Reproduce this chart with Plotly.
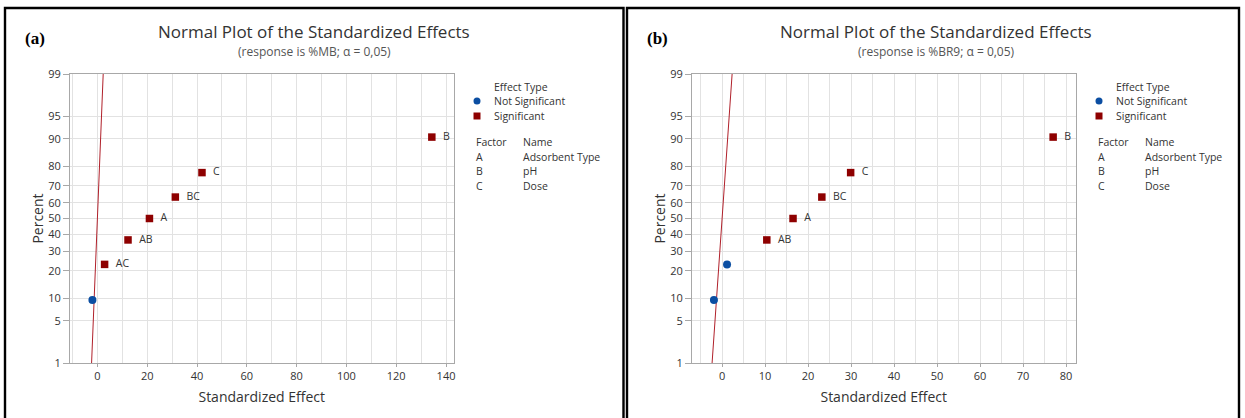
import plotly.graph_objects as go
from statistics import NormalDist

W, H = 1245, 418
_nd = NormalDist()


def zscore(pct):
    """Normal-probability position of a percentage."""
    return _nd.inv_cdf(pct / 100.0)


def px(x):
    return x / W


def py(y):
    return 1 - y / H


# ---- data -------------------------------------------------------------
percent_ticks = [1, 5, 10, 20, 30, 40, 50, 60, 70, 80, 90, 95, 99]
terms = ["ABC", "AC", "AB", "A", "BC", "C", "B"]
percent = [9.5, 23.0, 36.5, 50.0, 63.5, 77.0, 90.5]

mb_effects = [-2.0, 2.9, 12.3, 20.9, 31.3, 42.0, 134.3]
mb_significant = [False, True, True, True, True, True, True]

br9_effects = [-1.9, 1.15, 10.4, 16.5, 23.2, 29.9, 77.0]
br9_significant = [False, False, True, True, True, True, True]

ref_effect = [-2.33, 2.33]
ref_percent = [1, 99]

factors = ["A", "B", "C"]
factor_names = ["Adsorbent Type", "pH", "Dose"]

panels = [
    dict(tag="(a)", response="%MB", effects=mb_effects, sig=mb_significant,
         xrange=[-11, 143], dtick=20, minor=10),
    dict(tag="(b)", response="%BR9", effects=br9_effects, sig=br9_significant,
         xrange=[-7, 82.2], dtick=10, minor=5),
]

# ---- styling ----------------------------------------------------------
FONT = "Open Sans"
TXT = "#333333"
RED = "#8e0000"
BLUE = "#0b4ea2"
LINE_RED = "#b0202a"
GRID = "#e2e2e2"
AXIS = "#a8a8a8"

fig = go.Figure()
shapes = []
annotations = []

for i, p in enumerate(panels):
    dx = 622 * i
    xa = "x" if i == 0 else f"x{i + 1}"
    ya = "y" if i == 0 else f"y{i + 1}"
    xkey = "xaxis" if i == 0 else f"xaxis{i + 1}"
    ykey = "yaxis" if i == 0 else f"yaxis{i + 1}"

    # reference line
    fig.add_trace(go.Scatter(
        x=ref_effect, y=[zscore(v) for v in ref_percent], mode="lines",
        line=dict(color=LINE_RED, width=1), xaxis=xa, yaxis=ya,
        showlegend=False, hoverinfo="skip"))

    ns_x = [e for e, s in zip(p["effects"], p["sig"]) if not s]
    ns_y = [zscore(q) for q, s in zip(percent, p["sig"]) if not s]
    s_x = [e for e, s in zip(p["effects"], p["sig"]) if s]
    s_y = [zscore(q) for q, s in zip(percent, p["sig"]) if s]
    s_t = [t for t, s in zip(terms, p["sig"]) if s]

    fig.add_trace(go.Scatter(
        x=ns_x, y=ns_y, mode="markers", xaxis=xa, yaxis=ya,
        marker=dict(symbol="circle", size=8, color=BLUE),
        showlegend=False))
    fig.add_trace(go.Scatter(
        x=s_x, y=s_y, mode="markers+text", xaxis=xa, yaxis=ya,
        text=["  " + t for t in s_t], textposition="middle right",
        textfont=dict(family=FONT, size=10.5, color=TXT),
        marker=dict(symbol="square", size=7.5, color=RED),
        showlegend=False, cliponaxis=False))

    fig.layout[xkey] = dict(
        domain=[px(70 + dx), px(453.5 + dx)], anchor=ya, automargin=False,
        range=p["xrange"], tick0=0, dtick=p["dtick"],
        showgrid=True, gridcolor=GRID, gridwidth=1,
        minor=dict(dtick=p["minor"], tick0=0, showgrid=True, gridcolor=GRID),
        showline=True, linecolor=AXIS, linewidth=1, mirror=True,
        ticks="outside", ticklen=3, tickcolor=AXIS,
        tickfont=dict(family=FONT, size=11, color=TXT),
        zeroline=False,
        title=dict(text="Standardized Effect", standoff=9,
                   font=dict(family=FONT, size=14, color=TXT)))
    fig.layout[ykey] = dict(
        domain=[py(363), py(74)], anchor=xa, automargin=False,
        range=[zscore(1), zscore(99)],
        tickvals=[zscore(v) for v in percent_ticks],
        ticktext=[str(v) for v in percent_ticks],
        showgrid=True, gridcolor=GRID, gridwidth=1,
        showline=True, linecolor=AXIS, linewidth=1, mirror=True,
        ticks="outside", ticklen=6, tickcolor=AXIS,
        tickfont=dict(family=FONT, size=11, color=TXT),
        zeroline=False,
        title=dict(text="Percent", standoff=1,
                   font=dict(family=FONT, size=14, color=TXT)))

    # panel frame
    x0 = 5 if i == 0 else 627
    x1 = 623.5 if i == 0 else 1239
    shapes.append(dict(type="rect", xref="paper", yref="paper",
                       x0=px(x0), x1=px(x1), y0=py(425), y1=py(8),
                       line=dict(color="black", width=2.4)))

    # titles
    annotations.append(dict(text="<b>" + p["tag"] + "</b>", x=px(23 + dx), y=py(39),
                            xanchor="left", yanchor="middle", showarrow=False,
                            font=dict(family="Liberation Serif", size=17, color="black"),
                            xref="paper", yref="paper"))
    annotations.append(dict(text="Normal Plot of the Standardized Effects",
                            x=px(314 + dx), y=py(31), xanchor="center", yanchor="middle",
                            showarrow=False, xref="paper", yref="paper",
                            font=dict(family=FONT, size=17, color=TXT)))
    annotations.append(dict(text=f"(response is {p['response']}; α = 0,05)",
                            x=px(314 + dx), y=py(51), xanchor="center", yanchor="middle",
                            showarrow=False, xref="paper", yref="paper",
                            font=dict(family=FONT, size=12, color="#555555")))

    # effect-type key
    lx = 474 + dx
    annotations.append(dict(text="Effect Type", x=px(lx + 18), y=py(87),
                            xanchor="left", yanchor="middle", showarrow=False,
                            xref="paper", yref="paper",
                            font=dict(family=FONT, size=10.5, color=TXT)))
    for label, yy, sym in [("Not Significant", 101, "circle"),
                           ("Significant", 116, "square")]:
        annotations.append(dict(text=label, x=px(lx + 18), y=py(yy),
                                xanchor="left", yanchor="middle", showarrow=False,
                                xref="paper", yref="paper",
                                font=dict(family=FONT, size=10.5, color=TXT)))
        shapes.append(dict(type="circle" if sym == "circle" else "rect",
                           xref="paper", yref="paper",
                           xsizemode="pixel", ysizemode="pixel",
                           xanchor=px(lx + 3), yanchor=py(yy),
                           x0=-3.5, x1=3.5, y0=-3.5, y1=3.5,
                           fillcolor=BLUE if sym == "circle" else RED,
                           line=dict(width=0)))

    # factor table
    rows = [("Factor", "Name")] + list(zip(factors, factor_names))
    for k, (f, n) in enumerate(rows):
        yy = 142 + 14.7 * k
        annotations.append(dict(text=f, x=px(lx), y=py(yy), xanchor="left",
                                yanchor="middle", showarrow=False,
                                xref="paper", yref="paper",
                                font=dict(family=FONT, size=10.5, color=TXT)))
        annotations.append(dict(text=n, x=px(lx + 47), y=py(yy), xanchor="left",
                                yanchor="middle", showarrow=False,
                                xref="paper", yref="paper",
                                font=dict(family=FONT, size=10.5, color=TXT)))

fig.update_layout(
    width=W, height=H, margin=dict(l=0, r=0, t=0, b=0),
    paper_bgcolor="white", plot_bgcolor="white",
    shapes=shapes, annotations=annotations,
    font=dict(family=FONT, color=TXT))

fig.write_html("out.html")
